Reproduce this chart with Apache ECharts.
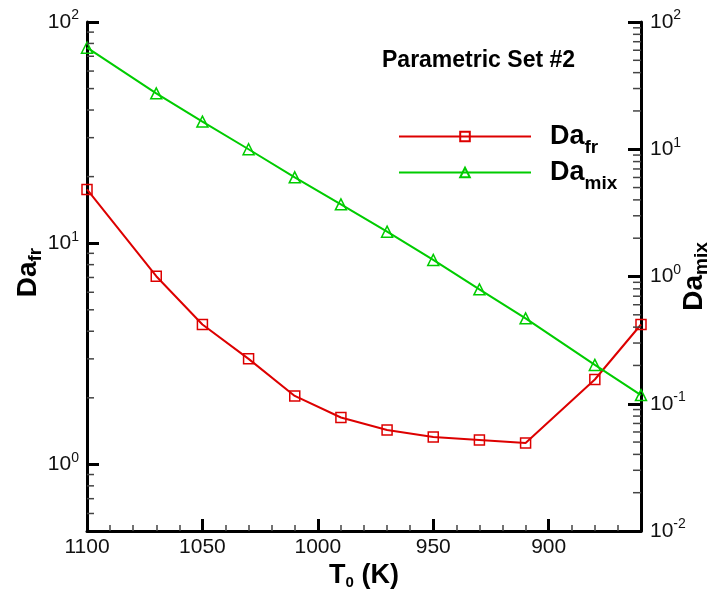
<!DOCTYPE html>
<html>
<head>
<meta charset="utf-8">
<script src="https://cdn.jsdelivr.net/npm/echarts@6/dist/echarts.min.js"></script>
<style>
  html, body { margin: 0; padding: 0; background: #ffffff; }
  #chart { width: 716px; height: 599px; }
</style>
</head>
<body>
<div id="chart"></div>
<script>
// Inlet temperature T0 (K) and the two Damkohler numbers
const temperatures = [1100, 1070, 1050, 1030, 1010, 990, 970, 950, 930, 910, 880, 860];
const daFr = [17.5, 7.09, 4.29, 3.00, 2.04, 1.63, 1.43, 1.33, 1.29, 1.25, 2.42, 4.29];
const daMix = [62.8, 27.5, 16.5, 10.0, 6.02, 3.69, 2.25, 1.35, 0.793, 0.469, 0.202, 0.117];

// Axis ranges
const xRange = [860, 1100];
const leftRange = [0.5, 100];
const rightRange = [0.01, 100];
const minorMultipliers = [2, 3, 4, 5, 6, 7, 8, 9];

const FONT = '"Liberation Sans", Arial, Helvetica, sans-serif';
const RED = '#dd0000';
const GREEN = '#00cc00';

// Log-decade minor tick values inside a range
function minorTickValues(range) {
  const out = [];
  const e0 = Math.floor(Math.log10(range[0]));
  const e1 = Math.ceil(Math.log10(range[1]));
  for (let e = e0; e < e1; e++) {
    for (const m of minorMultipliers) {
      const v = m * Math.pow(10, e);
      if (v > range[0] * 1.0001 && v < range[1] * 0.9999) out.push(v);
    }
  }
  return out;
}

// "10^n" labels only at whole decades
function powerLabel(v) {
  const lg = Math.log10(v);
  const e = Math.round(lg);
  if (Math.abs(lg - e) > 1e-6) return '';
  return '{b|10}{s|' + e + '}';
}

const tickRich = {
  b: { fontFamily: FONT, fontSize: 21, color: '#111' },
  s: { fontFamily: FONT, fontSize: 14, color: '#111', padding: [0, 0, 13, 0] }
};

function subRich(main, sub, shift, lead) {
  return {
    m: { fontFamily: FONT, fontSize: main, fontWeight: 'bold', color: '#000', padding: [0, 0, 0, lead || 0] },
    s: { fontFamily: FONT, fontSize: sub, fontWeight: 'bold', color: '#000', padding: [shift, 0, 0, 0] }
  };
}

// Short inward minor ticks on a log y axis
function minorTickSeries(values, yAxisIndex, xEdge, dir, len) {
  return {
    type: 'custom',
    xAxisIndex: 0,
    yAxisIndex: yAxisIndex,
    silent: true,
    clip: false,
    z: 5,
    data: values.map(v => [xEdge, v]),
    renderItem: function (params, api) {
      const p = api.coord([api.value(0), api.value(1)]);
      return {
        type: 'line',
        shape: { x1: p[0], y1: p[1], x2: p[0] + dir * len, y2: p[1] },
        style: { stroke: '#444', lineWidth: 1.5 }
      };
    }
  };
}

const chart = echarts.init(document.getElementById('chart'), null, { renderer: 'canvas' });

chart.setOption({
  animation: false,
  backgroundColor: '#ffffff',
  title: {
    text: 'Parametric Set #2',
    left: 382,
    top: 49,
    padding: 0,
    textStyle: { fontFamily: FONT, fontSize: 23, fontWeight: 'bold', color: '#000' }
  },
  legend: {
    data: ['Da_fr', 'Da_mix'],
    orient: 'vertical',
    left: 393,
    top: 118,
    itemWidth: 132,
    itemHeight: 12,
    itemGap: 2,
    selectedMode: false,
    formatter: function (name) {
      return name === 'Da_fr' ? '{m|Da}{s|fr}' : '{m|Da}{s|mix}';
    },
    textStyle: {
      fontFamily: FONT,
      rich: {
        m: { fontFamily: FONT, fontSize: 27, fontWeight: 'bold', color: '#000', padding: [0, 0, 0, 14] },
        s: { fontFamily: FONT, fontSize: 19, fontWeight: 'bold', color: '#000', padding: [22, 0, 0, 0] }
      }
    }
  },
  grid: { left: 87, right: 75, top: 22, bottom: 68, containLabel: false, outerBoundsMode: 'none' },
  xAxis: {
    type: 'value',
    inverse: true,
    min: xRange[0],
    max: xRange[1],
    name: '{m|T}{s|0}{m| (K)}',
    nameLocation: 'middle',
    nameGap: 30,
    nameMoveOverlap: false,
    nameTextStyle: { rich: subRich(27, 15, 14) },
    axisLine: { show: true, onZero: false, lineStyle: { color: '#000', width: 3 } },
    axisTick: { show: true, inside: true, length: 12, lineStyle: { color: '#000', width: 3 } },
    minorTick: { show: true, splitNumber: 5, length: 6, lineStyle: { color: '#444', width: 1.5 } },
    axisLabel: {
      margin: 6,
      fontFamily: FONT,
      fontSize: 21,
      color: '#111',
      formatter: function (v) { return v % 50 === 0 ? String(v) : ''; }
    },
    splitLine: { show: false },
    minorSplitLine: { show: false }
  },
  yAxis: [
    {
      type: 'log',
      logBase: 10,
      min: leftRange[0],
      max: leftRange[1],
      position: 'left',
      name: '{m|Da}{s|fr}',
      nameLocation: 'middle',
      nameRotate: 90,
      nameGap: 42,
      nameMoveOverlap: false,
      nameTextStyle: { rich: subRich(28, 19, 15, 8) },
      axisLine: { show: true, onZero: false, lineStyle: { color: '#000', width: 3 } },
      axisTick: { show: true, inside: true, length: 12, lineStyle: { color: '#000', width: 3 } },
      axisLabel: { margin: 8, formatter: powerLabel, rich: tickRich },
      splitLine: { show: false }
    },
    {
      type: 'log',
      logBase: 10,
      min: rightRange[0],
      max: rightRange[1],
      position: 'right',
      name: '{m|Da}{s|mix}',
      nameLocation: 'middle',
      nameRotate: 90,
      nameGap: 36,
      nameMoveOverlap: false,
      nameTextStyle: { rich: subRich(28, 19, 15) },
      axisLine: { show: true, onZero: false, lineStyle: { color: '#000', width: 3 } },
      axisTick: { show: true, inside: true, length: 13, lineStyle: { color: '#000', width: 3 } },
      axisLabel: { margin: 9, formatter: powerLabel, rich: tickRich },
      splitLine: { show: false }
    }
  ],
  series: [
    {
      name: 'Da_fr',
      type: 'line',
      yAxisIndex: 0,
      data: temperatures.map((t, i) => [t, daFr[i]]),
      symbol: 'rect',
      symbolSize: 10,
      z: 3,
      lineStyle: { color: RED, width: 2 },
      itemStyle: { color: 'rgba(255,255,255,0)', borderColor: RED, borderWidth: 1.5 }
    },
    {
      name: 'Da_mix',
      type: 'line',
      yAxisIndex: 1,
      data: temperatures.map((t, i) => [t, daMix[i]]),
      symbol: 'triangle',
      symbolSize: 11,
      z: 3,
      lineStyle: { color: GREEN, width: 2 },
      itemStyle: { color: 'rgba(255,255,255,0)', borderColor: GREEN, borderWidth: 1.5 }
    },
    minorTickSeries(minorTickValues(leftRange), 0, xRange[1], 1, 7),
    minorTickSeries(minorTickValues(rightRange), 1, xRange[0], -1, 8)
  ]
});
</script>
</body>
</html>
